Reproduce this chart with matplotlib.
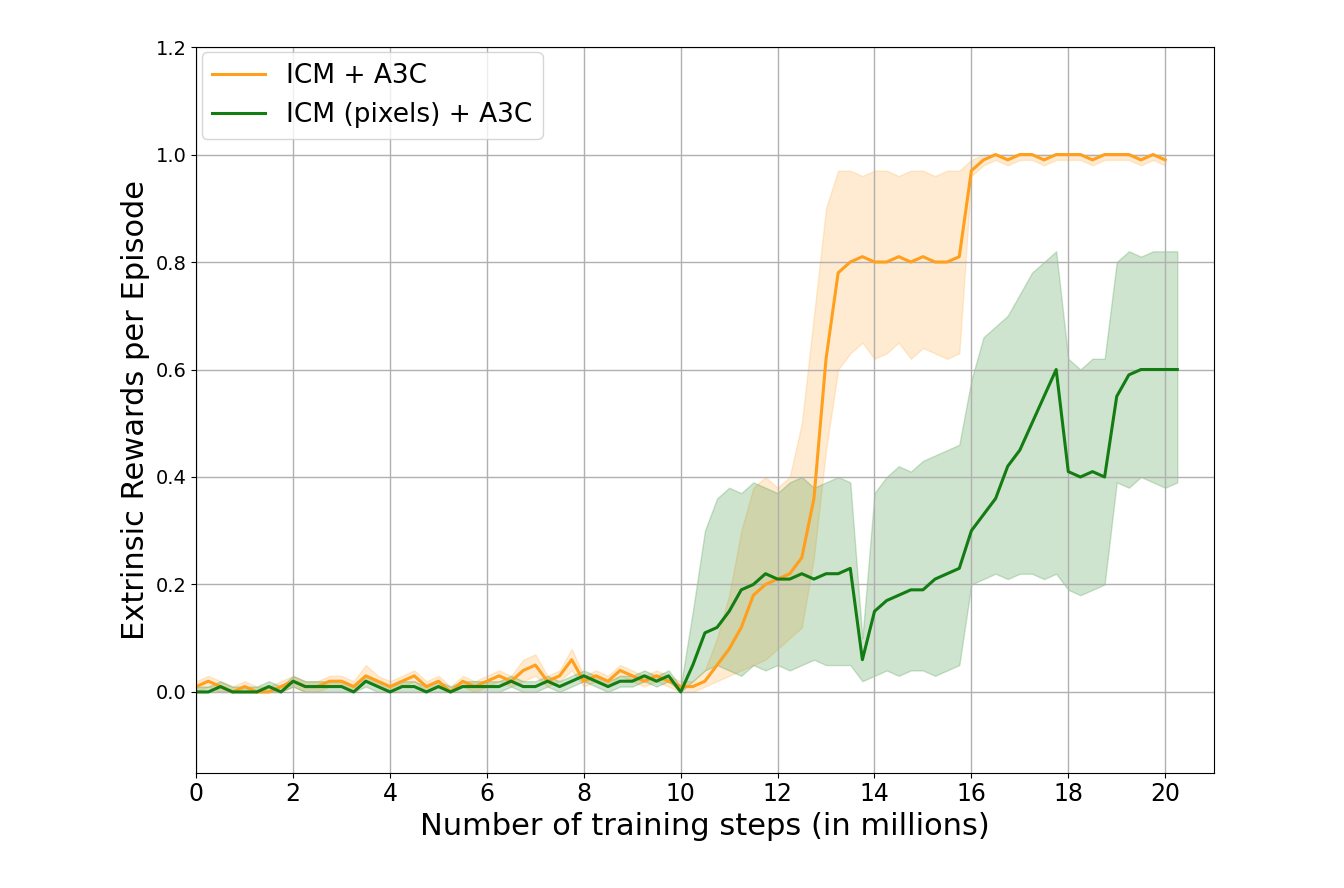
import matplotlib.pyplot as plt
import numpy as np

# values, every 0.25M steps
steps = [i * 0.25 for i in range(82)]  # 0 .. 20.25

icm_mean = [0.01, 0.02, 0.01, 0.00, 0.01, 0.00, 0.00, 0.01, 0.02, 0.01, 0.01, 0.02,
            0.02, 0.01, 0.03, 0.02, 0.01, 0.02, 0.03, 0.01, 0.02, 0.00, 0.02, 0.01,
            0.02, 0.03, 0.02, 0.04, 0.05, 0.02, 0.03, 0.06, 0.02, 0.03, 0.02, 0.04,
            0.03, 0.02, 0.03, 0.02, 0.01, 0.01, 0.02, 0.05, 0.08, 0.12, 0.18, 0.20,
            0.21, 0.22, 0.25, 0.36, 0.62, 0.78, 0.80, 0.81, 0.80, 0.80, 0.81, 0.80,
            0.81, 0.80, 0.80, 0.81, 0.97, 0.99, 1.00, 0.99, 1.00, 1.00, 0.99, 1.00,
            1.00, 1.00, 0.99, 1.00, 1.00, 1.00, 0.99, 1.00, 0.99]
icm_lo = [0.00, 0.01, 0.00, 0.00, 0.00, 0.00, 0.00, 0.00, 0.01, 0.00, 0.00, 0.01,
          0.01, 0.00, 0.02, 0.01, 0.00, 0.01, 0.02, 0.00, 0.01, 0.00, 0.01, 0.00,
          0.01, 0.02, 0.01, 0.02, 0.03, 0.01, 0.02, 0.04, 0.01, 0.02, 0.01, 0.03,
          0.02, 0.01, 0.02, 0.01, 0.00, 0.00, 0.01, 0.02, 0.03, 0.04, 0.05, 0.06,
          0.08, 0.10, 0.12, 0.25, 0.45, 0.60, 0.63, 0.65, 0.62, 0.63, 0.65, 0.62,
          0.64, 0.63, 0.62, 0.63, 0.96, 0.98, 0.99, 0.98, 0.99, 0.99, 0.98, 0.99,
          0.99, 0.99, 0.98, 0.99, 0.99, 0.99, 0.98, 0.99, 0.98]
icm_hi = [0.02, 0.03, 0.02, 0.01, 0.02, 0.01, 0.01, 0.02, 0.03, 0.02, 0.02, 0.03,
          0.03, 0.02, 0.05, 0.03, 0.02, 0.03, 0.04, 0.02, 0.03, 0.01, 0.03, 0.02,
          0.03, 0.04, 0.03, 0.06, 0.07, 0.03, 0.04, 0.08, 0.03, 0.04, 0.03, 0.05,
          0.04, 0.03, 0.04, 0.03, 0.02, 0.02, 0.04, 0.10, 0.18, 0.30, 0.38, 0.40,
          0.38, 0.40, 0.50, 0.70, 0.90, 0.97, 0.97, 0.96, 0.97, 0.97, 0.96, 0.97,
          0.97, 0.96, 0.97, 0.97, 0.99, 1.00, 1.00, 1.00, 1.00, 1.00, 1.00, 1.00,
          1.00, 1.00, 1.00, 1.00, 1.00, 1.00, 1.00, 1.00, 1.00]

pix_mean = [0.00, 0.00, 0.01, 0.00, 0.00, 0.00, 0.01, 0.00, 0.02, 0.01, 0.01, 0.01,
            0.01, 0.00, 0.02, 0.01, 0.00, 0.01, 0.01, 0.00, 0.01, 0.00, 0.01, 0.01,
            0.01, 0.01, 0.02, 0.01, 0.01, 0.02, 0.01, 0.02, 0.03, 0.02, 0.01, 0.02,
            0.02, 0.03, 0.02, 0.03, 0.00, 0.05, 0.11, 0.12, 0.15, 0.19, 0.20, 0.22,
            0.21, 0.21, 0.22, 0.21, 0.22, 0.22, 0.23, 0.06, 0.15, 0.17, 0.18, 0.19,
            0.19, 0.21, 0.22, 0.23, 0.30, 0.33, 0.36, 0.42, 0.45, 0.50, 0.55, 0.60,
            0.41, 0.40, 0.41, 0.40, 0.55, 0.59, 0.60, 0.60, 0.60, 0.60]
pix_lo = [0.00, 0.00, 0.00, 0.00, 0.00, 0.00, 0.00, 0.00, 0.01, 0.00, 0.00, 0.00,
          0.00, 0.00, 0.01, 0.00, 0.00, 0.00, 0.00, 0.00, 0.00, 0.00, 0.00, 0.00,
          0.00, 0.00, 0.01, 0.00, 0.00, 0.01, 0.00, 0.01, 0.02, 0.01, 0.00, 0.01,
          0.01, 0.02, 0.01, 0.02, 0.00, 0.02, 0.04, 0.05, 0.04, 0.03, 0.05, 0.04,
          0.05, 0.04, 0.05, 0.06, 0.05, 0.05, 0.05, 0.02, 0.03, 0.04, 0.03, 0.04,
          0.04, 0.03, 0.04, 0.05, 0.20, 0.21, 0.22, 0.21, 0.22, 0.22, 0.21, 0.22,
          0.19, 0.18, 0.19, 0.20, 0.39, 0.38, 0.40, 0.39, 0.38, 0.39]
pix_hi = [0.01, 0.01, 0.02, 0.01, 0.01, 0.01, 0.02, 0.01, 0.03, 0.02, 0.02, 0.02,
          0.02, 0.01, 0.03, 0.02, 0.01, 0.02, 0.02, 0.01, 0.02, 0.01, 0.02, 0.02,
          0.02, 0.02, 0.03, 0.02, 0.02, 0.03, 0.02, 0.03, 0.04, 0.03, 0.02, 0.03,
          0.03, 0.04, 0.03, 0.04, 0.01, 0.15, 0.30, 0.36, 0.38, 0.37, 0.39, 0.38,
          0.37, 0.39, 0.40, 0.38, 0.39, 0.40, 0.39, 0.10, 0.37, 0.40, 0.42, 0.41,
          0.43, 0.44, 0.45, 0.46, 0.58, 0.66, 0.68, 0.70, 0.74, 0.78, 0.80, 0.82,
          0.62, 0.60, 0.62, 0.62, 0.80, 0.82, 0.81, 0.82, 0.82, 0.82]

fig, ax = plt.subplots(figsize=(13.44, 8.88), dpi=100)
fig.subplots_adjust(left=0.146, right=0.903, top=0.947, bottom=0.13)

orange = '#ff9f1c'
green = '#137c13'
x_icm = steps[:len(icm_mean)]
ax.fill_between(x_icm, icm_lo, icm_hi, color=orange, alpha=0.2, linewidth=1)
ax.plot(x_icm, icm_mean, color=orange, lw=2.2, label='ICM + A3C')
ax.fill_between(steps, pix_lo, pix_hi, color=green, alpha=0.2, linewidth=1)
ax.plot(steps, pix_mean, color=green, lw=2.2, label='ICM (pixels) + A3C')

ax.set_xlim(0, 21)
ax.set_ylim(-0.15, 1.2)
ax.set_xticks(range(0, 21, 2))
ax.set_yticks(np.arange(0, 1.21, 0.2))
ax.grid(True, color='#b0b0b0', lw=1)
ax.tick_params(axis='x', labelsize=17)
ax.tick_params(axis='y', labelsize=14)
ax.set_xlabel('Number of training steps (in millions)', fontsize=22)
ax.set_ylabel('Extrinsic Rewards per Episode', fontsize=22)
ax.legend(loc='upper left', fontsize=19, borderaxespad=0.2)

fig.savefig('out.png')
